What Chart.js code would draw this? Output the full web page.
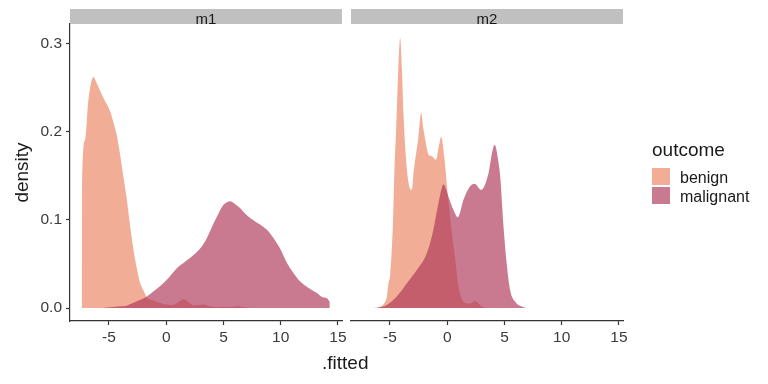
<!DOCTYPE html>
<html>
<head>
<meta charset="utf-8">
<script src="https://cdn.jsdelivr.net/npm/chart.js@4"></script>
<style>
  body { margin: 0; background: #fff; }
  #wrap { position: relative; width: 768px; height: 384px; font-family: "Liberation Sans", Arial, sans-serif; color: #1a1a1a; }
  canvas { position: absolute; left: 0; top: 0; }
  .strip { position: absolute; top: 9px; height: 15px; background: #c0c0c0; font-size: 15px; line-height: 19px; text-align: center; overflow: visible; }
  .lab { position: absolute; white-space: nowrap; }
  .key { position: absolute; width: 18px; height: 17px; }
</style>
</head>
<body>
<div id="wrap">
  <canvas id="c1" width="768" height="384"></canvas>
  <canvas id="c2" width="768" height="384"></canvas>
  <div class="strip" style="left:70px;width:272px;">m1</div>
  <div class="strip" style="left:351px;width:272px;">m2</div>
  <div class="lab" style="left:322px;top:352px;font-size:19px;">.fitted</div>
  <div class="lab" style="left:652px;top:139px;font-size:19px;">outcome</div>
  <div class="key" style="left:652px;top:168px;background:rgba(233,129,93,0.65);"></div>
  <div class="key" style="left:652px;top:187px;background:rgba(172,50,86,0.65);"></div>
  <div class="lab" style="left:680px;top:169px;font-size:16px;">benign</div>
  <div class="lab" style="left:680px;top:188px;font-size:16px;">malignant</div>
</div>
<script>
// facet m1
const m1BenignX = [-7.37, -7.36, -7.1, -6.8, -6.55, -6.35, -6.1, -5.83, -5.4, -4.9, -4.6, -4.3, -4.1, -3.75, -3.44, -3.15, -2.86, -2.55, -2.27, -1.95, -1.69, -1.2, -0.6, 0.0, 0.64, 1.1, 1.52, 1.9, 2.4, 2.7, 3.3, 3.8, 4.5, 5.0, 5.6, 6.2, 6.7, 7.0, 7.3];
const m1BenignY = [0, 0.134, 0.19, 0.235, 0.256, 0.262, 0.256, 0.248, 0.236, 0.223, 0.21, 0.195, 0.18, 0.15, 0.123, 0.093, 0.066, 0.044, 0.028, 0.019, 0.012, 0.009, 0.006, 0.004, 0.0034, 0.007, 0.0099, 0.007, 0.003, 0.0034, 0.004, 0.002, 0.001, 0.0015, 0.001, 0.002, 0.001, 0.0005, 0];
const m1MalignantX = [-5.5, -4.9, -4.0, -3.44, -3.0, -2.3, -1.69, -1.1, -0.52, 0.2, 0.93, 1.7, 2.39, 3.0, 3.5, 4.14, 4.6, 5.0, 5.3, 5.59, 6.0, 6.47, 6.9, 7.34, 7.9, 8.5, 9.0, 9.38, 10.0, 10.55, 11.1, 11.7, 12.4, 13.17, 13.7, 14.28, 14.29];
const m1MalignantY = [0, 0.0008, 0.002, 0.0027, 0.005, 0.009, 0.013, 0.019, 0.025, 0.034, 0.045, 0.053, 0.060, 0.068, 0.078, 0.096, 0.108, 0.117, 0.120, 0.121, 0.118, 0.113, 0.107, 0.102, 0.097, 0.092, 0.086, 0.079, 0.066, 0.051, 0.040, 0.030, 0.023, 0.017, 0.012, 0.007, 0];

// facet m2
const m2BenignX = [-6.5, -5.86, -5.57, -5.27, -5.13, -4.98, -4.75, -4.6, -4.46, -4.3, -4.11, -3.95, -3.82, -3.58, -3.35, -3.09, -2.94, -2.8, -2.55, -2.27, -2.1, -1.92, -1.63, -1.34, -0.99, -0.75, -0.52, -0.26, -0.1, 0.12, 0.41, 0.7, 0.99, 1.43, 2.0, 2.45, 3.03, 3.4];
const m2BenignY = [0, 0.0015, 0.004, 0.013, 0.028, 0.038, 0.092, 0.16, 0.202, 0.26, 0.306, 0.27, 0.221, 0.166, 0.14, 0.134, 0.153, 0.168, 0.19, 0.221, 0.205, 0.191, 0.174, 0.172, 0.168, 0.182, 0.194, 0.172, 0.15, 0.119, 0.085, 0.055, 0.024, 0.007, 0.005, 0.008, 0.0015, 0];
const m2MalignantX = [-6.15, -5.27, -4.4, -3.52, -2.65, -1.78, -1.2, -0.76, -0.32, 0.12, 0.55, 0.93, 1.43, 2.0, 2.39, 2.97, 3.61, 3.9, 4.14, 4.49, 4.63, 4.92, 5.22, 5.5, 5.94, 6.67, 7.2];
const m2MalignantY = [0, 0.0034, 0.013, 0.028, 0.043, 0.062, 0.089, 0.119, 0.140, 0.126, 0.111, 0.103, 0.123, 0.138, 0.141, 0.134, 0.153, 0.175, 0.185, 0.164, 0.149, 0.092, 0.047, 0.020, 0.007, 0.001, 0];

const xTicks = [-5, 0, 5, 10, 15];
const yTicks = [0, 0.1, 0.2, 0.3];
const yTickLabels = ['0.0', '0.1', '0.2', '0.3'];

const benignFill = 'rgba(233,129,93,0.65)';
const malignantFill = 'rgba(172,50,86,0.65)';
const axisColor = '#333333';
const font = 'Liberation Sans';

function pts(xs, ys) {
  return xs.map((x, i) => ({x: x, y: ys[i]}));
}

function makeChart(id, benign, malignant, showY, pad) {
  return new Chart(document.getElementById(id), {
    type: 'line',
    data: {
      datasets: [
        {label: 'benign', data: benign, backgroundColor: benignFill, order: 2},
        {label: 'malignant', data: malignant, backgroundColor: malignantFill, order: 1}
      ]
    },
    options: {
      responsive: false,
      animation: false,
      devicePixelRatio: 1,
      parsing: false,
      layout: {padding: pad},
      elements: {
        point: {radius: 0},
        line: {fill: 'origin', borderWidth: 0, borderColor: 'rgba(0,0,0,0)', cubicInterpolationMode: 'monotone'}
      },
      plugins: {legend: {display: false}, tooltip: {enabled: false}},
      scales: {
        x: {
          type: 'linear', min: -8.4, max: 15.35,
          afterBuildTicks: s => { s.ticks = xTicks.map(v => ({value: v})); },
          afterFit: s => { s.height = 63; },
          border: {display: true, color: axisColor, width: 1.2},
          grid: {drawOnChartArea: false, drawTicks: true, tickLength: 4, tickColor: axisColor, tickWidth: 1.2},
          ticks: {color: '#3a3a3a', font: {family: font, size: 15.5}, padding: 3, maxRotation: 0}
        },
        y: {
          display: showY,
          min: -0.0147, max: 0.322,
          afterBuildTicks: s => { s.ticks = yTicks.map(v => ({value: v})); },
          afterFit: s => { s.width = showY ? 70 : 0; },
          border: {display: true, color: axisColor, width: 1.2},
          grid: {drawOnChartArea: false, drawTicks: true, tickLength: 4, tickColor: axisColor, tickWidth: 1.2},
          ticks: {color: '#3a3a3a', font: {family: font, size: 15.5}, padding: 4,
            callback: (v, i) => yTickLabels[i]},
          title: {display: true, text: 'density', color: '#1a1a1a', font: {family: font, size: 19}, padding: {top: 11, bottom: 0}}
        }
      }
    }
  });
}

makeChart('c1', pts(m1BenignX, m1BenignY), pts(m1MalignantX, m1MalignantY), true,
  {left: 0, right: 768 - 342, top: 24, bottom: 0});
makeChart('c2', pts(m2BenignX, m2BenignY), pts(m2MalignantX, m2MalignantY), false,
  {left: 351, right: 768 - 623, top: 24, bottom: 0});
</script>
</body>
</html>
